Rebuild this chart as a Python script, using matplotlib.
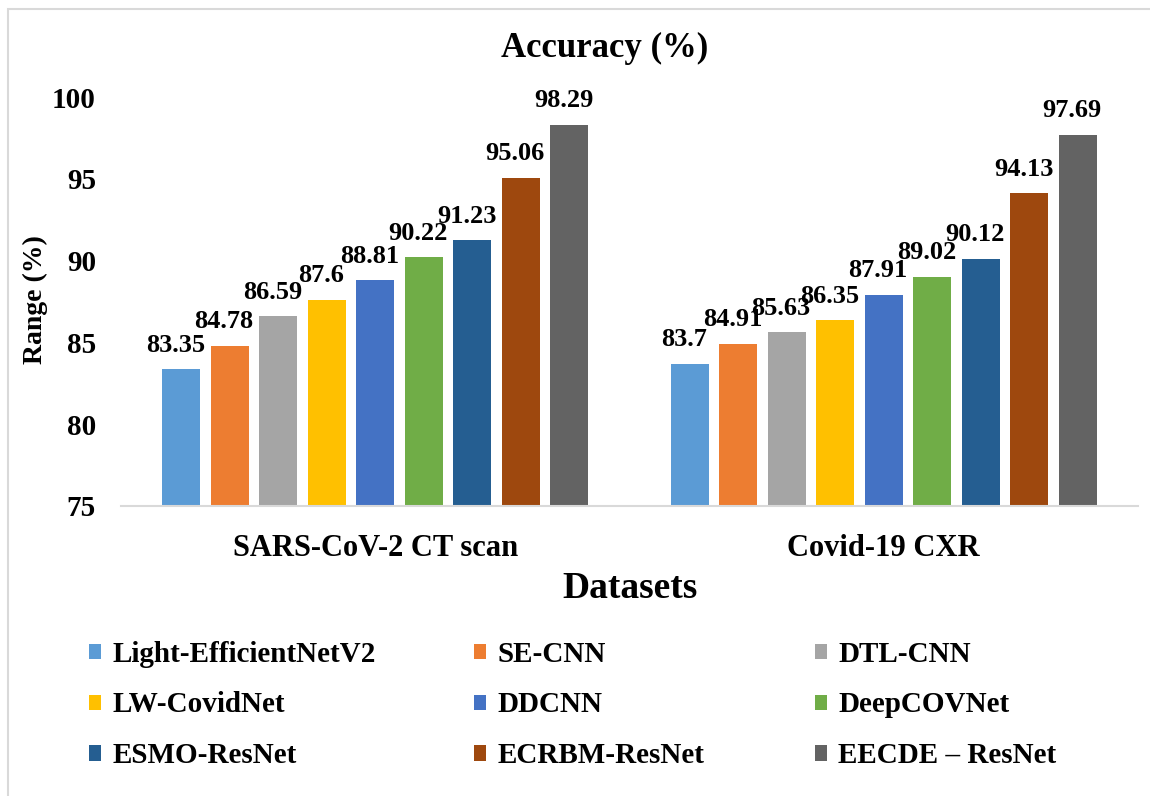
import numpy as np
import matplotlib
matplotlib.use('Agg')
import matplotlib.pyplot as plt
from matplotlib.patches import Rectangle, Patch

plt.rcParams['font.family'] = ['Liberation Serif', 'DejaVu Serif']
plt.rcParams['font.weight'] = 'bold'

datasets = ['SARS-CoV-2 CT scan', 'Covid-19 CXR']
models = ['Light-EfficientNetV2', 'SE-CNN', 'DTL-CNN', 'LW-CovidNet', 'DDCNN',
          'DeepCOVNet', 'ESMO-ResNet', 'ECRBM-ResNet', 'EECDE \u2013 ResNet']
ct_scan = [83.35, 84.78, 86.59, 87.6, 88.81, 90.22, 91.23, 95.06, 98.29]
cxr = [83.7, 84.91, 85.63, 86.35, 87.91, 89.02, 90.12, 94.13, 97.69]
labels_ct = ['83.35', '84.78', '86.59', '87.6', '88.81', '90.22', '91.23', '95.06', '98.29']
labels_cxr = ['83.7', '84.91', '85.63', '86.35', '87.91', '89.02', '90.12', '94.13', '97.69']
colors = ['#5B9BD5', '#ED7D31', '#A5A5A5', '#FFC000', '#4472C4',
          '#70AD47', '#255E91', '#9E480E', '#636363']
yticks = [75, 80, 85, 90, 95, 100]

fig = plt.figure(figsize=(11.5, 7.96), dpi=100)
ax = fig.add_axes([121/1150, 1 - 506/796, 1017/1150, 409/796])

x = np.arange(len(datasets))
pitch = 0.0954
width = 0.0747
n = len(models)
handles = []
for k in range(n):
    vals = [ct_scan[k], cxr[k]]
    labs = [labels_ct[k], labels_cxr[k]]
    pos = x + (k - (n - 1) / 2) * pitch
    bars = ax.bar(pos, vals, width, color=colors[k], zorder=2)
    # value labels, Excel puts them a touch left of the bar centre
    for b, lab in zip(bars, labs):
        ax.annotate(lab, (b.get_x() + b.get_width() / 2, b.get_height()),
                    xytext=(-4, 9), textcoords='offset points',
                    ha='center', va='bottom', fontsize=19, fontweight='bold')
    handles.append(Patch(facecolor=colors[k], label=models[k]))

ax.set_xlim(-0.5, 1.5)
ax.set_ylim(75, 100)
ax.set_yticks(yticks)
ax.set_xticks(x)
ax.set_xticklabels(datasets, fontsize=22, fontweight='bold')
ax.tick_params(axis='y', length=0, pad=18, labelsize=21)
ax.tick_params(axis='x', length=0, pad=20)
for s in ['top', 'right', 'left']:
    ax.spines[s].set_visible(False)
ax.spines['bottom'].set_color('#D9D9D9')
ax.spines['bottom'].set_linewidth(1.5)

fig.text(605/1150, 1 - 48/796, 'Accuracy (%)', ha='center', va='center',
         fontsize=25, fontweight='bold')
fig.text(630/1150, 1 - 588/796, 'Datasets', ha='center', va='center',
         fontsize=27, fontweight='bold')
fig.text(35/1150, 1 - 300/796, 'Range (%)', ha='center', va='center',
         rotation=90, fontsize=20, fontweight='bold')

# legend: three columns, row-major order like Excel
col_x = [74, 459, 800]
for c in range(3):
    hs = [handles[c], handles[c + 3], handles[c + 6]]
    fig.legend(handles=hs, loc='upper left', bbox_to_anchor=(col_x[c]/1150, 1 - 626/796),
               frameon=False, fontsize=21, handlelength=0.42, handleheight=0.42,
               handletextpad=0.4, labelspacing=0.82, borderpad=0)

fig.patches.append(Rectangle((8/1150, -0.05), 1.1, 1 - 9/796 + 0.05,
                             transform=fig.transFigure, fill=False,
                             edgecolor='#D9D9D9', linewidth=1.5))

fig.savefig('out.png', dpi=100)
